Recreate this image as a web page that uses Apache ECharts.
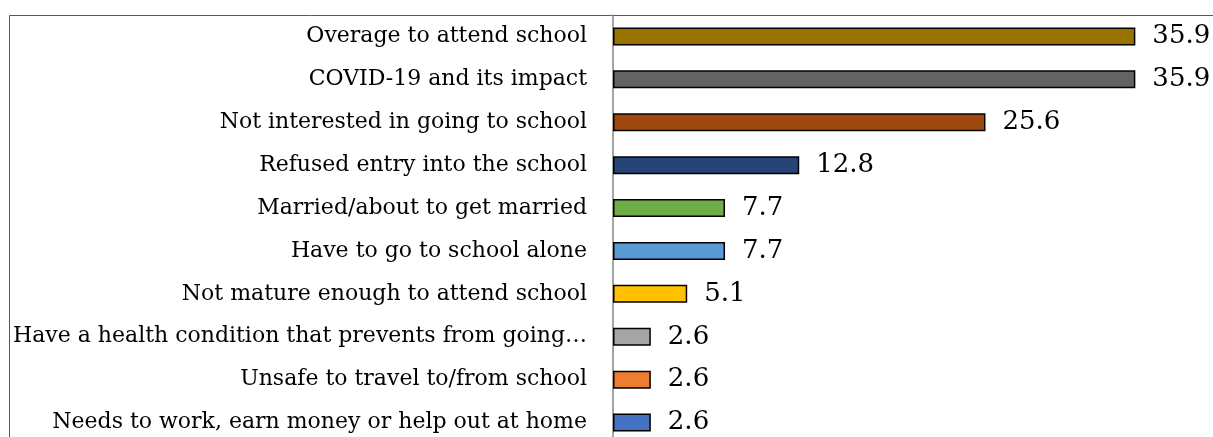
<!DOCTYPE html>
<html>
<head>
<meta charset="utf-8">
<script src="https://cdn.jsdelivr.net/npm/echarts@6/dist/echarts.min.js"></script>
<style>
  html, body { margin: 0; padding: 0; background: #fff; }
  #chart { width: 1213px; height: 437px; }
</style>
</head>
<body>
<div id="chart"></div>
<script>
// Reasons for not attending school (%)
const categories = [
  "Overage to attend school",
  "COVID-19 and its impact",
  "Not interested in going to school",
  "Refused entry into the school",
  "Married/about to get married",
  "Have to go to school alone",
  "Not mature enough to attend school",
  "Have a health condition that prevents from going\u2026",
  "Unsafe to travel to/from school",
  "Needs to work, earn money or help out at home"
];
const values = [35.9, 35.9, 25.6, 12.8, 7.7, 7.7, 5.1, 2.6, 2.6, 2.6];
const barColors = [
  "#997300", "#636363", "#9E480E", "#264478", "#70AD47",
  "#5B9BD5", "#FFC000", "#A5A5A5", "#ED7D31", "#4472C4"
];

const FONT = "DejaVu Serif";
const chart = echarts.init(document.getElementById("chart"), null, { renderer: "canvas" });

chart.setOption({
  animation: false,
  backgroundColor: "#ffffff",
  graphic: [{
    type: "rect",
    shape: { x: 9.5, y: 15.5, width: 1400, height: 600 },
    style: { fill: "none", stroke: "#595959", lineWidth: 1 },
    z: -1
  }],
  grid: {
    left: 613, right: 18, top: 15, height: 429,
    containLabel: false,
    outerBoundsMode: "none"
  },
  xAxis: {
    type: "value", min: 0, max: 40, show: false
  },
  yAxis: {
    type: "category",
    data: categories,
    inverse: true,
    axisLine: { show: true, lineStyle: { color: "#868686", width: 1.5 } },
    axisTick: { show: false },
    axisLabel: {
      margin: 26,
      color: "#000",
      fontFamily: FONT,
      fontSize: 22
    }
  },
  series: [{
    type: "bar",
    barWidth: 18,
    data: values.map((v, i) => ({
      value: v,
      itemStyle: { color: barColors[i] }
    })),
    itemStyle: { borderColor: "#000", borderWidth: 1.5 },
    label: {
      show: true,
      position: "right",
      distance: 17,
      color: "#000",
      fontFamily: FONT,
      fontSize: 26,
      formatter: p => p.value.toFixed(1)
    }
  }]
});
</script>
</body>
</html>
